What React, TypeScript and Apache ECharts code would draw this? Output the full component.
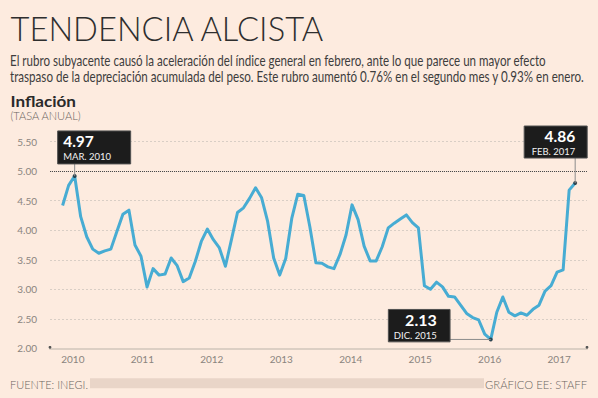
import React, { useEffect, useRef } from "react";
import * as echarts from "echarts";

// ---------- data ----------
const yearLabels = ["2010", "2011", "2012", "2013", "2014", "2015", "2016", "2017"];
const infl2010 = [4.42, 4.76, 4.92, 4.23, 3.89, 3.68, 3.61, 3.65, 3.68, 3.98, 4.27, 4.34];
const infl2011 = [3.75, 3.56, 3.04, 3.35, 3.24, 3.26, 3.53, 3.40, 3.13, 3.19, 3.47, 3.81];
const infl2012 = [4.02, 3.84, 3.70, 3.39, 3.84, 4.30, 4.38, 4.54, 4.72, 4.55, 4.15, 3.53];
const infl2013 = [3.24, 3.52, 4.20, 4.61, 4.59, 4.06, 3.45, 3.44, 3.38, 3.35, 3.59, 3.92];
const infl2014 = [4.43, 4.18, 3.73, 3.48, 3.48, 3.72, 4.04, 4.12, 4.19, 4.26, 4.13, 4.04];
const infl2015 = [3.06, 3.00, 3.12, 3.04, 2.88, 2.87, 2.73, 2.59, 2.52, 2.48, 2.24, 2.15];
const infl2016 = [2.61, 2.87, 2.61, 2.55, 2.60, 2.56, 2.66, 2.73, 2.97, 3.06, 3.29, 3.33];
const infl2017 = [4.68, 4.80];
const inflation = [
  ...infl2010, ...infl2011, ...infl2012, ...infl2013,
  ...infl2014, ...infl2015, ...infl2016, ...infl2017,
];

const calloutIndex = [2, 71, 85];
const calloutValue = ["4.97", "2.13", "4.86"];
const calloutDate = ["MAR. 2010", "DIC. 2015", "FEB. 2017"];

const titleText = "TENDENCIA ALCISTA";
const subtitleLine1 =
  "El rubro subyacente causó la aceleración del índice general en febrero, ante lo que parece un mayor efecto";
const subtitleLine2 =
  "traspaso de la depreciación acumulada del peso. Este rubro aumentó 0.76% en el segundo mes y 0.93% en enero.";
const chartTitle = "Inflación";
const chartUnit = "(TASA ANUAL)";
const sourceText = "FUENTE: INEGI.";
const creditText = "GRÁFICO EE: STAFF";

// ---------- layout ----------
const FONT = "Lato";
const BG = "#fdebdf";
const LINE = "#47acd3";
const AXIS_TXT = "#8a847e";
const BOX = "#1c1c1c";
const X_MIN = -2.09;
const X_MAX = 86.96;
const YEAR_LABEL_START = 1.7;
const YEAR_LABEL_STEP = 11.52;

let measureCtx: CanvasRenderingContext2D | null = null;
function fitScale(text: string, size: number, weight: number | string, target: number) {
  if (!measureCtx) measureCtx = document.createElement("canvas").getContext("2d");
  if (!measureCtx) return 1;
  measureCtx.font = `${weight} ${size}px ${FONT}`;
  const w = measureCtx.measureText(text).width;
  return w > 0 ? target / w : 1;
}

function txt(
  text: string,
  x: number,
  y: number,
  size: number,
  weight: number | string,
  color: string,
  align: string,
  target?: number,
  lineHeight?: number
) {
  return {
    type: "text",
    x,
    y,
    scaleX: target ? fitScale(text, size, weight, target) : 1,
    silent: true,
    z: 100,
    style: {
      text,
      fontSize: size,
      fontWeight: weight,
      fontFamily: FONT,
      fill: color,
      textAlign: align,
      textVerticalAlign: "middle",
      lineHeight: lineHeight ?? Math.round(size * 1.2),
    },
  };
}

export default function App() {
  const ref = useRef<HTMLDivElement>(null);

  useEffect(() => {
    if (!ref.current) return;
    const chart = echarts.init(ref.current, null, { renderer: "svg" });

    const yearPositions = yearLabels.map((_, k) => YEAR_LABEL_START + YEAR_LABEL_STEP * k);

    chart.setOption({
      animation: false,
      backgroundColor: BG,
      grid: { left: 50, right: 11, top: 141.7, bottom: 49.7 },
      xAxis: {
        type: "value",
        min: X_MIN,
        max: X_MAX,
        axisLine: { show: true, onZero: false, lineStyle: { color: "#dccfc4", width: 2 } },
        axisTick: { show: false },
        splitLine: { show: false },
        axisLabel: {
          customValues: yearPositions,
          formatter: (v: number) => {
            const k = Math.round((v - YEAR_LABEL_START) / YEAR_LABEL_STEP);
            return yearLabels[k] ?? "";
          },
          color: AXIS_TXT,
          fontSize: 10,
          fontFamily: FONT,
          margin: 6,
        },
      },
      yAxis: {
        type: "value",
        min: 2,
        max: 5.5,
        interval: 0.5,
        axisLine: { show: false },
        axisTick: { show: false },
        splitLine: { lineStyle: { color: "#d9cec5", type: [2, 2], width: 1 } },
        axisLabel: {
          formatter: (v: number) => v.toFixed(2),
          color: AXIS_TXT,
          fontSize: 10,
          fontFamily: FONT,
          margin: 13,
        },
      },
      series: [
        {
          type: "line",
          data: inflation.map((v, i) => [i, v]),
          symbol: "none",
          showSymbol: false,
          lineStyle: { color: LINE, width: 3, join: "round" },
          itemStyle: { color: LINE },
          z: 3,
          markLine: {
            silent: true,
            symbol: ["none", "none"],
            label: { show: false },
            lineStyle: { color: "#4a4a4a", type: "dotted", width: 1 },
            data: [{ yAxis: 5 }],
          },
        },
        {
          type: "scatter",
          data: calloutIndex.map((i) => [i, inflation[i]]),
          symbolSize: 4,
          itemStyle: { color: "#1d2b33" },
          z: 6,
        },
      ],
    });

    const px = calloutIndex.map(
      (i) => chart.convertToPixel({ seriesIndex: 0 }, [i, inflation[i]]) as number[]
    );
    const left = chart.convertToPixel({ xAxisIndex: 0, yAxisIndex: 0 }, [X_MIN, 2]) as number[];
    const right = chart.convertToPixel({ xAxisIndex: 0, yAxisIndex: 0 }, [X_MAX, 2]) as number[];

    const leader = (x1: number, y1: number, x2: number, y2: number) => ({
      type: "line",
      silent: true,
      z: 90,
      shape: { x1, y1, x2, y2 },
      style: { stroke: "#8c8c8c", lineWidth: 1 },
    });
    const box = (x: number, y: number, width: number, height: number) => ({
      type: "rect",
      silent: true,
      z: 95,
      shape: { x, y, width, height },
      style: { fill: BOX, stroke: "#505050", lineWidth: 1 },
    });

    const [p1, p2, p3] = px;
    const graphics: any[] = [
      // header
      txt(titleText, 10.5, 27.5, 34, 300, "#2e2e2e", "left", 315),
      txt(subtitleLine1, 10, 60, 14.5, 400, "#3d3d3d", "left", 536),
      txt(subtitleLine2, 10, 76.5, 14.5, 400, "#3d3d3d", "left", 575),
      txt(chartTitle, 10.5, 101.5, 16, 700, "#2a2a2a", "left", 65.5),
      txt(chartUnit, 10.5, 116, 11, 300, "#6b6560", "left", 71),
      // footer
      {
        type: "rect",
        silent: true,
        shape: { x: 90, y: 378.3, width: 394, height: 10 },
        style: { fill: "#e9d5c8" },
      },
      txt(sourceText, 10, 384, 11.5, 300, "#6b6560", "left", 78),
      txt(creditText, 587, 384, 11.5, 300, "#6b6560", "right", 102),
      // axis end dots
      { type: "circle", silent: true, z: 50, shape: { cx: left[0], cy: left[1] - 1, r: 1.4 }, style: { fill: "#555" } },
      { type: "circle", silent: true, z: 50, shape: { cx: right[0], cy: right[1] - 1, r: 1.4 }, style: { fill: "#555" } },
      // callout 1 (above, left-anchored)
      leader(p1[0], p1[1] - 12, p1[0], p1[1]),
      box(p1[0] - 17, p1[1] - 45, 73, 33),
      txt(calloutValue[0], p1[0] - 11.5, p1[1] - 34.5, 15.5, 700, "#ffffff", "left", undefined, 12),
      txt(calloutDate[0], p1[0] - 11.5, p1[1] - 19, 9.5, 400, "#f2f2f2", "left", undefined, 9),
      // callout 2 (left, right-anchored)
      leader(p2[0] - 40.7, p2[1], p2[0], p2[1]),
      box(p2[0] - 102.4, p2[1] - 30, 61.7, 32.4),
      txt(calloutValue[1], p2[0] - 54, p2[1] - 19.5, 16, 700, "#ffffff", "right", undefined, 12),
      txt(calloutDate[1], p2[0] - 54, p2[1] - 4, 9.5, 400, "#f2f2f2", "right", undefined, 9),
      // callout 3 (above, right-anchored)
      leader(p3[0], p3[1] - 25, p3[0], p3[1]),
      box(p3[0] - 51, p3[1] - 57, 63, 32),
      txt(calloutValue[2], p3[0], p3[1] - 47.5, 15.5, 700, "#ffffff", "right", undefined, 12),
      txt(calloutDate[2], p3[0], p3[1] - 32, 9.5, 400, "#f2f2f2", "right", 43.5, 9),
    ];
    chart.setOption({ graphic: graphics });

    return () => chart.dispose();
  }, []);

  return (
    <div
      ref={ref}
      style={{ position: "fixed", left: 0, top: 0, width: 598, height: 398, background: BG }}
    />
  );
}
